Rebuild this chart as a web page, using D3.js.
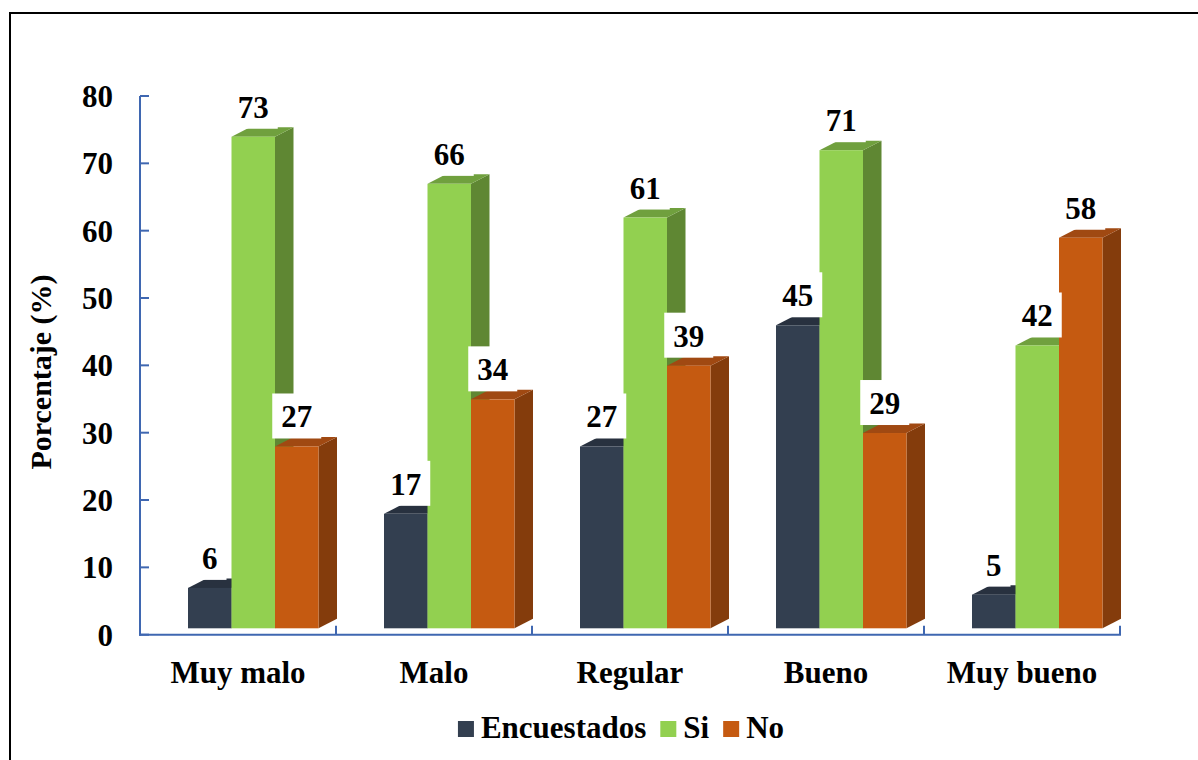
<!DOCTYPE html>
<html>
<head>
<meta charset="utf-8">
<script src="https://cdn.jsdelivr.net/npm/d3@7"></script>
<style>
  html, body { margin: 0; padding: 0; background: #ffffff; }
  svg { display: block; }
  text { font-family: "Liberation Serif", "Times New Roman", serif; font-weight: bold; fill: #000; }
</style>
</head>
<body>
<svg id="chart" width="1198" height="760"></svg>
<script>
// ---- data ----
const categories = ["Muy malo", "Malo", "Regular", "Bueno", "Muy bueno"];
const seriesNames = ["Encuestados", "Si", "No"];
const encuestados = [6, 17, 27, 45, 5];
const si = [73, 66, 61, 71, 42];
const no = [27, 34, 39, 29, 58];
const yTickValues = [0, 10, 20, 30, 40, 50, 60, 70, 80];
const yTitle = "Porcentaje (%)";

// ---- styles ----
const colors = {
  Encuestados: { front: "#333F50", top: "#28313F", side: "#232B37" },
  Si:          { front: "#92D050", top: "#70A03E", side: "#5F8733" },
  No:          { front: "#C55A11", top: "#A04912", side: "#843C0C" }
};
const axisColor = "#3F67B1";
const fontSize = 31;

const svg = d3.select("#chart");

// frame
svg.append("rect")
  .attr("x", 10).attr("y", 13)
  .attr("width", 1400).attr("height", 1000)
  .attr("fill", "none").attr("stroke", "#000").attr("stroke-width", 2);

// scales
const y = d3.scaleLinear().domain([0, 80]).range([634.7, 96]);
const x = d3.scaleBand().domain(categories).range([140, 1120]).paddingInner(0).paddingOuter(0);
const inner = d3.scaleBand().domain(seriesNames).range([48, 48 + 130.5]).padding(0);
const depthX = 18.5, depthY = 9.5, floorShift = 6.4;

const seriesData = { Encuestados: encuestados, Si: si, No: no };

// axes
const yAxisG = svg.append("g").attr("transform", "translate(140,0)");
yAxisG.append("line").attr("x1", 0).attr("x2", 0).attr("y1", y(80)).attr("y2", y(0) + 1)
  .attr("stroke", axisColor).attr("stroke-width", 2);
yAxisG.selectAll("line.tick").data(yTickValues).enter().append("line")
  .attr("class", "tick")
  .attr("x1", 0).attr("x2", 9)
  .attr("y1", d => y(d)).attr("y2", d => y(d))
  .attr("stroke", axisColor).attr("stroke-width", 2);
svg.append("g").selectAll("text").data(yTickValues).enter().append("text")
  .attr("x", 113).attr("y", d => y(d))
  .attr("dy", "0.35em")
  .attr("text-anchor", "end")
  .attr("font-size", fontSize)
  .text(d => d);

// x axis
const xAxisG = svg.append("g");
xAxisG.append("line").attr("x1", 139).attr("x2", 1121).attr("y1", y(0)).attr("y2", y(0))
  .attr("stroke", axisColor).attr("stroke-width", 2);
const catEdges = categories.map(c => x(c)).concat([x(categories[categories.length - 1]) + x.bandwidth()]);
xAxisG.selectAll("line.ctick").data(catEdges.slice(1)).enter().append("line")
  .attr("class", "ctick")
  .attr("x1", d => d).attr("x2", d => d)
  .attr("y1", y(0)).attr("y2", y(0) - 9)
  .attr("stroke", axisColor).attr("stroke-width", 2);
svg.append("g").selectAll("text").data(categories).enter().append("text")
  .attr("x", d => x(d) + x.bandwidth() / 2)
  .attr("y", 683)
  .attr("text-anchor", "middle")
  .attr("font-size", fontSize)
  .text(d => d);

// y title
svg.append("text")
  .attr("transform", "translate(51,372) rotate(-90)")
  .attr("text-anchor", "middle")
  .attr("font-size", 30)
  .text(yTitle);

// bars (3D)
const bars = [];
categories.forEach((c, i) => {
  seriesNames.forEach(s => {
    bars.push({ cat: c, series: s, value: seriesData[s][i] });
  });
});

const barsG = svg.append("g");
const bw = inner.bandwidth();
bars.forEach(b => {
  const x0 = x(b.cat) + inner(b.series);
  const x1 = x0 + bw;
  const yb = y(0) - floorShift;
  const yt = y(b.value) - floorShift;
  const col = colors[b.series];
  const g = barsG.append("g");
  // side face
  g.append("path")
    .attr("d", `M${x1},${yt} L${x1 + depthX},${yt - depthY} L${x1 + depthX},${yb - depthY} L${x1},${yb} Z`)
    .attr("fill", col.side);
  // top face
  g.append("path")
    .attr("d", `M${x0},${yt} L${x0 + depthX},${yt - depthY} L${x1 + depthX},${yt - depthY} L${x1},${yt} Z`)
    .attr("fill", col.top);
  // front face
  g.append("rect")
    .attr("x", x0).attr("y", yt)
    .attr("width", bw).attr("height", yb - yt)
    .attr("fill", col.front);
});

// labels with white boxes
const labelsG = svg.append("g");
bars.forEach(b => {
  const cx = x(b.cat) + inner(b.series) + bw / 2;
  const baseline = y(b.value) - floorShift - 19;
  const g = labelsG.append("g");
  const rect = g.append("rect").attr("fill", "#fff");
  const t = g.append("text")
    .attr("x", cx).attr("y", baseline)
    .attr("text-anchor", "middle")
    .attr("font-size", fontSize)
    .text(b.value);
  const w = t.node().getComputedTextLength() + 18;
  rect.attr("x", cx - w / 2).attr("y", baseline - 34).attr("width", w).attr("height", 45);
});

// legend
const legendG = svg.append("g");
const sq = 16, gapSq = 7, gapItem = 14;
let cursor = 0;
seriesNames.forEach(s => {
  const g = legendG.append("g");
  g.append("rect").attr("x", cursor).attr("y", 721).attr("width", sq).attr("height", sq)
    .attr("fill", colors[s].front);
  const t = g.append("text").attr("x", cursor + sq + gapSq).attr("y", 738)
    .attr("font-size", fontSize).text(s);
  const tw = t.node().getComputedTextLength();
  cursor += sq + gapSq + tw + gapItem;
});
const totalW = cursor - gapItem;
legendG.attr("transform", `translate(${621 - totalW / 2},0)`);
</script>
</body>
</html>
